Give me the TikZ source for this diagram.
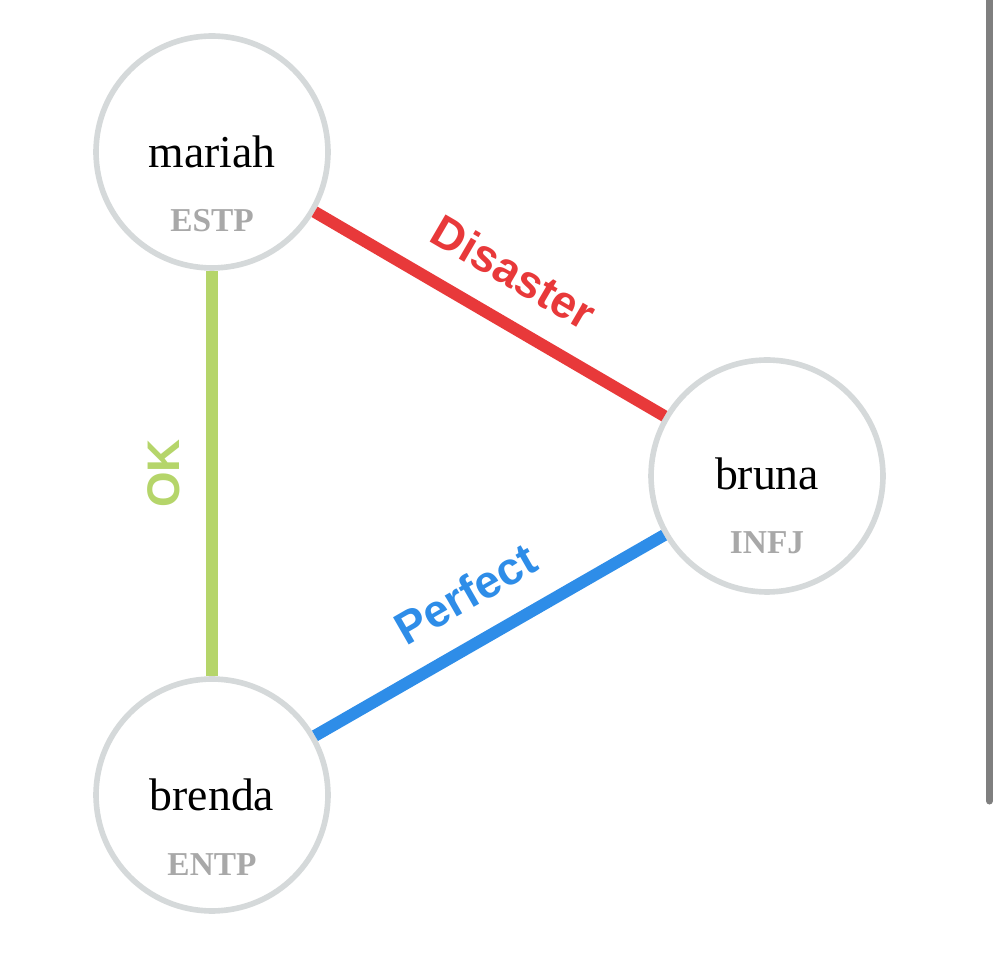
\documentclass[tikz,border=0pt]{standalone}
\usepackage{fontspec}
\setmainfont{Liberation Serif}
\setsansfont{Liberation Sans}
\definecolor{ringgray}{HTML}{D5D9DA}
\definecolor{kindgray}{HTML}{A8A8A8}
\definecolor{bargray}{HTML}{7F7F7F}
\definecolor{badred}{HTML}{E8393A}
\definecolor{okgreen}{HTML}{B5D56A}
\definecolor{goodblue}{HTML}{2E8DE8}
\begin{document}
\begin{tikzpicture}[x=0.02cm, y=0.02cm,
  person/.style={circle, draw=ringgray, line width=3.2pt, minimum size=4.64cm, fill=white},
  who/.style={anchor=base, font=\fontsize{26}{26}\selectfont},
  kind/.style={anchor=base, text=kindgray, font=\fontsize{19}{19}\selectfont\bfseries},
  link/.style={line width=6.8pt},
  tag/.style={sloped, above=18pt, inner sep=0pt, outer sep=0pt, font=\sffamily\bfseries\fontsize{26}{26}\selectfont}]

\useasboundingbox (0,0) rectangle (1000,953);

%% scroll bar
\draw[bargray, line width=4pt, line cap=round] (989.5,960) -- (989.5,152);

%% people
\node[person] (mariah) at (212,801) {};
\node[person] (bruna) at (767,477) {};
\node[person] (brenda) at (212,158) {};

\node[who] (mariahname) at (212,785) {mariah};
\node[kind] (mariahkind) at (212,721) {ESTP};
\node[who] (brunaname) at (767,463) {bruna};
\node[kind] (brunakind) at (767,399) {INFJ};
\node[who] (brendaname) at (212,142) {brenda};
\node[kind] (brendakind) at (212,78) {ENTP};

%% links
\draw[link, badred] (mariah) -- node[tag, text=badred] (disaster) {Disaster} (bruna);
\draw[link, okgreen] (brenda) -- node[tag, text=okgreen] (ok) {OK} (mariah);
\draw[link, goodblue] (brenda) -- node[tag, text=goodblue] (perfect) {Perfect} (bruna);

\end{tikzpicture}
\end{document}
